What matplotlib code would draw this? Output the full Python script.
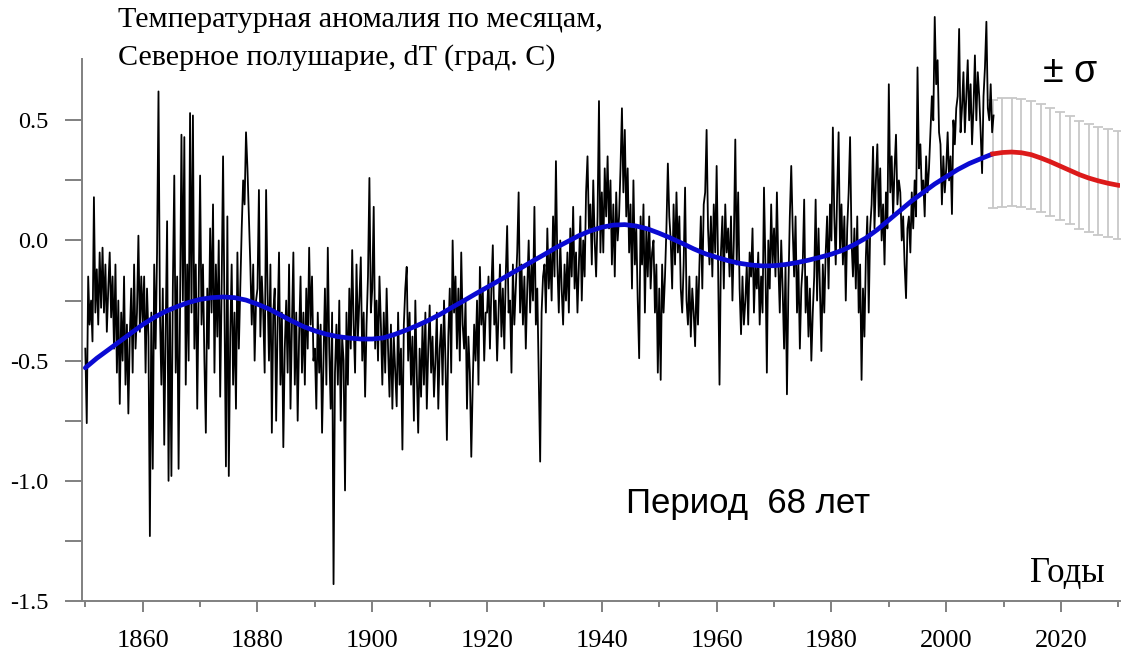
import numpy as np
import matplotlib
matplotlib.use("Agg")
import matplotlib.pyplot as plt
from matplotlib.ticker import FixedLocator, FixedFormatter

plt.rcParams['axes.unicode_minus'] = False

# ---------------- data (quarterly anomaly values) ----------------
START_YEAR = 1850.0
STEP = 0.25

t1850s = [-0.45, -0.76, -0.15, -0.35, -0.25, -0.42, 0.18, -0.3, -0.12, -0.35, -0.05, -0.28,
          -0.03, -0.3, -0.1, -0.38, -0.2, -0.05, -0.32, -0.15, -0.45, -0.1, -0.55, -0.25,
          -0.68, -0.3, -0.5, -0.15, -0.6, -0.35, -0.72, -0.4, -0.2, -0.55, -0.1, -0.45,
          -0.3, 0.02, -0.38, -0.15]
t1860s = [-0.35, -0.15, -0.55, -0.2, -0.4, -1.23, -0.3, -0.95, -0.1, -0.45, -0.05, 0.62,
          -0.3, -0.6, -0.2, -0.85, -0.4, 0.08, -1.0, -0.3, -0.98, -0.2, 0.27, -0.55,
          -0.15, -0.95, -0.3, 0.44, -0.25, 0.43, -0.6, -0.1, -0.5, 0.53, -0.3, 0.52,
          -0.45, -0.1, -0.7, -0.2]
t1870s = [0.27, -0.35, -0.1, -0.5, -0.8, -0.2, -0.45, 0.05, -0.3, 0.15, -0.55, -0.1,
          -0.4, 0.0, -0.65, -0.2, 0.35, -0.3, -0.94, 0.1, -0.98, -0.4, -0.1, -0.6,
          -0.3, -0.7, -0.05, -0.45, -0.2, 0.05, 0.25, 0.15, 0.45, 0.3, 0.1, -0.1,
          -0.35, -0.1, -0.5, -0.25]
t1880s = [-0.2, 0.21, -0.4, -0.15, -0.3, -0.55, 0.21, -0.2, -0.5, -0.1, -0.8, -0.3,
          -0.2, -0.75, -0.35, -0.05, -0.6, -0.3, -0.86, -0.45, -0.25, -0.55, -0.1, -0.7,
          -0.35, -0.05, -0.6, -0.3, -0.75, -0.4, -0.15, -0.55, -0.3, -0.6, -0.2, -0.45,
          -0.03, -0.35, -0.15, -0.5]
t1890s = [-0.45, -0.7, -0.3, -0.55, -0.35, -0.8, -0.5, -0.2, -0.6, -0.03, -0.45, -0.7,
          -0.3, -1.43, -0.55, -0.35, -0.6, -0.25, -0.75, -0.4, -0.5, -1.04, -0.3, -0.6,
          -0.2, -0.45, -0.04, -0.35, -0.55, -0.1, -0.4, -0.25, -0.07, -0.5, -0.3, -0.65,
          -0.35, -0.15, 0.26, -0.3]
t1900s = [-0.2, 0.14, -0.45, -0.25, -0.5, -0.15, -0.35, -0.6, -0.3, -0.55, -0.2, -0.45,
          -0.65, -0.35, -0.7, -0.4, -0.55, -0.69, -0.3, -0.6, -0.45, -0.87, -0.35, -0.2,
          -0.11, -0.5, -0.3, -0.6, -0.4, -0.75, -0.25, -0.55, -0.8, -0.45, -0.65, -0.35,
          -0.6, -0.3, -0.7, -0.45]
t1910s = [-0.27, -0.55, -0.4, -0.65, -0.5, -0.3, -0.7, -0.45, -0.35, -0.6, -0.25, -0.5,
          -0.83, -0.4, -0.2, -0.55, 0.0, -0.3, -0.15, -0.45, -0.2, -0.5, -0.05, -0.35,
          -0.45, -0.25, -0.7, -0.4, -0.55, -0.9, -0.6, -0.35, -0.5, -0.25, -0.6, -0.11,
          -0.35, -0.2, -0.5, -0.3]
t1920s = [-0.3, -0.15, -0.45, -0.2, -0.02, -0.35, -0.25, -0.5, -0.3, -0.1, -0.4, -0.2,
          -0.45, -0.15, 0.06, -0.3, -0.25, -0.55, -0.1, -0.35, -0.2, -0.05, 0.2, -0.3,
          -0.1, -0.35, -0.15, -0.45, -0.2, 0.0, -0.3, -0.1, -0.25, 0.14, -0.35, -0.2,
          -0.55, -0.92, -0.3, -0.15]
t1930s = [-0.1, -0.3, 0.05, -0.2, -0.05, -0.25, 0.1, -0.15, 0.33, -0.1, -0.3, 0.0,
          -0.2, -0.35, -0.1, -0.25, -0.05, -0.3, 0.05, -0.15, 0.14, -0.2, -0.05, -0.3,
          -0.1, 0.1, -0.25, 0.0, -0.15, 0.2, 0.35, 0.05, 0.15, -0.1, 0.25, 0.0,
          -0.15, 0.1, 0.58, -0.05]
t1940s = [0.2, -0.05, 0.3, 0.1, 0.35, 0.05, 0.25, -0.1, 0.15, -0.15, 0.2, 0.0,
          0.1, 0.3, 0.55, 0.2, 0.46, 0.1, 0.3, -0.05, 0.15, -0.2, 0.25, -0.1,
          0.05, -0.25, -0.49, 0.1, -0.1, 0.15, -0.3, 0.05, -0.15, 0.1, -0.2, -0.05,
          0.0, -0.3, -0.1, -0.55]
t1950s = [-0.2, -0.58, -0.1, -0.3, -0.15, 0.05, 0.32, 0.1, 0.0, -0.2, 0.15, -0.1,
          0.2, -0.05, 0.1, -0.2, -0.3, -0.1, 0.22, -0.25, -0.35, -0.15, -0.4, -0.2,
          -0.3, -0.44, -0.15, -0.35, -0.1, 0.1, -0.2, 0.15, 0.2, 0.46, 0.05, -0.1,
          0.1, -0.15, 0.15, -0.05]
t1960s = [0.31, -0.1, -0.6, -0.05, 0.1, -0.2, 0.15, -0.05, 0.05, -0.15, 0.1, -0.25,
          0.0, 0.42, -0.1, 0.2, -0.2, -0.39, -0.15, -0.35, -0.25, -0.1, -0.35, -0.05,
          -0.15, 0.05, -0.3, -0.1, -0.2, -0.05, -0.35, -0.15, -0.3, 0.22, -0.1, -0.55,
          0.0, -0.2, 0.15, -0.1]
t1970s = [0.05, -0.15, 0.2, -0.1, -0.3, 0.0, -0.2, -0.45, -0.1, -0.64, -0.2, 0.1,
          0.31, 0.05, -0.15, 0.1, -0.3, -0.1, -0.45, -0.2, -0.1, 0.17, -0.3, -0.15,
          -0.4, -0.2, -0.5, -0.3, -0.15, 0.17, -0.25, 0.05, -0.2, -0.46, -0.1, -0.3,
          -0.05, 0.1, -0.2, 0.15]
t1980s = [0.0, 0.47, 0.1, -0.1, 0.2, 0.45, -0.05, 0.15, -0.1, 0.1, -0.25, 0.05,
          0.2, 0.43, 0.0, -0.15, 0.05, -0.2, 0.1, -0.3, -0.1, -0.58, -0.2, -0.4,
          -0.07, 0.1, -0.3, 0.05, 0.15, 0.39, 0.05, 0.25, 0.4, 0.1, 0.3, 0.0,
          0.15, -0.1, 0.2, 0.05]
t1990s = [0.65, 0.2, 0.35, 0.1, 0.3, 0.44, 0.15, 0.25, 0.2, 0.0, 0.1, -0.1,
          -0.24, 0.05, 0.1, -0.05, 0.2, 0.05, 0.25, 0.1, 0.72, 0.3, 0.4, 0.2,
          0.25, 0.1, 0.35, 0.2, 0.3, 0.45, 0.6, 0.5, 0.93, 0.65, 0.75, 0.45,
          0.4, 0.15, 0.35, 0.2]
t2000s = [0.3, 0.45, 0.25, 0.35, 0.11, 0.5, 0.4, 0.55, 0.6, 0.88, 0.45, 0.55,
          0.7, 0.45, 0.6, 0.75, 0.5, 0.65, 0.4, 0.55, 0.77, 0.5, 0.7, 0.6,
          0.45, 0.28, 0.6, 0.72, 0.91, 0.55, 0.5, 0.65, 0.45, 0.52]

# fitted 68-year-period curve (blue), values every 2 years
fit_years = [1850, 1852, 1854, 1856, 1858, 1860, 1862, 1864, 1866, 1868, 1870, 1872, 1874,
             1876, 1878, 1880, 1882, 1884, 1886, 1888, 1890, 1892, 1894, 1896, 1898, 1900,
             1902, 1904, 1906, 1908, 1910, 1912, 1914, 1916, 1918, 1920, 1922, 1924, 1926,
             1928, 1930, 1932, 1934, 1936, 1938, 1940, 1942, 1944, 1946, 1948, 1950, 1952,
             1954, 1956, 1958, 1960, 1962, 1964, 1966, 1968, 1970, 1972, 1974, 1976, 1978,
             1980, 1982, 1984, 1986, 1988, 1990, 1992, 1994, 1996, 1998, 2000, 2002, 2004,
             2006, 2008.1]
fit_values = [-0.53, -0.49, -0.455, -0.42, -0.385, -0.35, -0.32, -0.295, -0.275, -0.258, -0.245,
              -0.238, -0.235, -0.238, -0.248, -0.265, -0.285, -0.31, -0.335, -0.358, -0.376,
              -0.39, -0.4, -0.406, -0.41, -0.41, -0.405, -0.39, -0.372, -0.352, -0.33, -0.305,
              -0.277, -0.25, -0.222, -0.195, -0.168, -0.14, -0.113, -0.085, -0.058, -0.03,
              -0.005, 0.02, 0.04, 0.055, 0.064, 0.066, 0.06, 0.048, 0.03, 0.01, -0.012, -0.035,
              -0.055, -0.07, -0.084, -0.095, -0.102, -0.106, -0.105, -0.1, -0.092, -0.082,
              -0.07, -0.057, -0.04, -0.017, 0.01, 0.045, 0.085, 0.125, 0.165, 0.2, 0.235,
              0.265, 0.295, 0.32, 0.34, 0.36]

# forecast (red) with +-sigma bars
fc_years = [2008.1, 2009.8, 2011.4, 2013.1, 2014.8, 2016.5, 2018.1, 2019.8, 2021.5, 2023.2,
            2024.8, 2026.5, 2028.2, 2029.9]
fc_values = [0.36, 0.366, 0.368, 0.365, 0.357, 0.343, 0.328, 0.31, 0.292, 0.274, 0.26, 0.248,
             0.238, 0.23]
SIGMA = 0.225

series = np.array(t1850s + t1860s + t1870s + t1880s + t1890s + t1900s + t1910s + t1920s +
                  t1930s + t1940s + t1950s + t1960s + t1970s + t1980s + t1990s + t2000s)
years = START_YEAR + STEP * np.arange(len(series))

x_major = [1860, 1880, 1900, 1920, 1940, 1960, 1980, 2000, 2020]
x_minor = [1850, 1870, 1890, 1910, 1930, 1950, 1970, 1990, 2010, 2030]
y_ticks = [-1.5, -1.25, -1.0, -0.75, -0.5, -0.25, 0.0, 0.25, 0.5]
y_labels = ['-1.5', '', '-1.0', '', '-0.5', '', '0.0', '', '0.5']

# ---------------- figure ----------------
W, H = 1121, 650
fig = plt.figure(figsize=(W / 100, H / 100), dpi=100)
ax = fig.add_axes([81.7 / W, 49 / H, (1120 - 81.7) / W, (601 - 59) / H])

ax.plot(years, series, color='black', lw=1.3, zorder=2, clip_on=False)
ax.plot(fit_years, fit_values, color='#0a0ad2', lw=3.4, solid_capstyle='round', zorder=3)
ax.errorbar(fc_years, fc_values, yerr=SIGMA, fmt='none', ecolor='#c8c8c8',
            elinewidth=1.3, capsize=3.6, capthick=1.3, zorder=1)
ax.plot(fc_years, fc_values, color='#dc1a1a', lw=3.4, zorder=4)

ax.set_xlim(1849.37, 2030.28)
ax.set_ylim(-1.5, 0.755)

for s in ['top', 'right']:
    ax.spines[s].set_visible(False)
for s in ['left', 'bottom']:
    ax.spines[s].set_color('#808080')
    ax.spines[s].set_linewidth(1.4)

ax.xaxis.set_major_locator(FixedLocator(x_major))
ax.xaxis.set_minor_locator(FixedLocator(x_minor))
ax.yaxis.set_major_locator(FixedLocator(y_ticks))
ax.yaxis.set_major_formatter(FixedFormatter(y_labels))

serif = ['Liberation Serif', 'DejaVu Serif']
sans = ['Liberation Sans', 'DejaVu Sans']
ax.tick_params(axis='x', which='major', length=8, width=1.4, color='#808080',
               pad=13, labelsize=19)
ax.tick_params(axis='x', which='minor', length=4, width=1.4, color='#808080')
ax.tick_params(axis='y', which='major', length=12, width=1.4, color='#808080',
               pad=12, labelsize=17.5)
for lab in ax.get_xticklabels() + ax.get_yticklabels():
    lab.set_family(serif)

fig.text(118 / W, 1 - 27 / H, 'Температурная аномалия по месяцам,', family=serif,
         fontsize=21.7, va='baseline', ha='left')
fig.text(118 / W, 1 - 65 / H, 'Северное полушарие, dT (град. C)', family=serif,
         fontsize=21.7, va='baseline', ha='left')
fig.text(1043 / W, 1 - 82 / H, '± σ', family=sans, fontsize=27, va='baseline', ha='left')
fig.text(626 / W, 1 - 513 / H, 'Период  68 лет', family=sans, fontsize=25,
         va='baseline', ha='left')
fig.text(1030 / W, 1 - 582 / H, 'Годы', family=serif, fontsize=25, va='baseline', ha='left')

fig.savefig('out.png', dpi=100)
